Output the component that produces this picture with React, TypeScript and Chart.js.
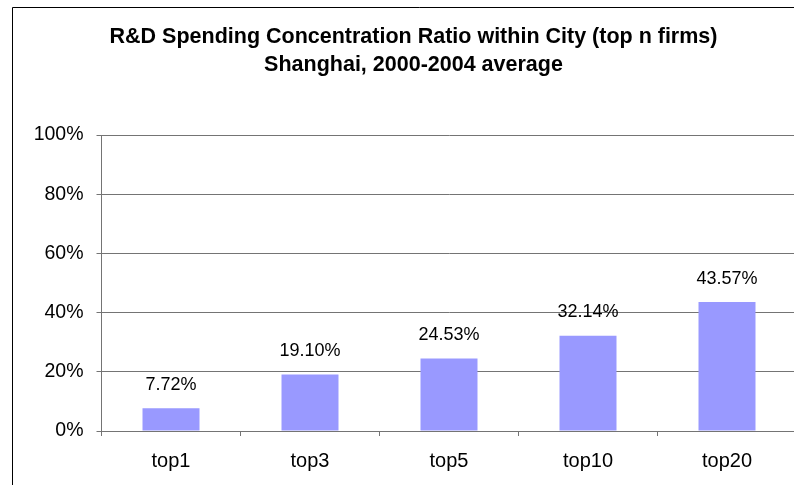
import React, { useEffect, useRef } from "react";
import { Chart, registerables } from "chart.js";

Chart.register(...registerables);

const categories = ["top1", "top3", "top5", "top10", "top20"];
const concentration = [7.72, 19.1, 24.53, 32.14, 43.57];
const yTicks = [0, 20, 40, 60, 80, 100];
const titleLines = [
  "R&D Spending Concentration Ratio within City (top n firms)",
  "Shanghai, 2000-2004 average",
];

const FONT = "'Liberation Sans', Arial, sans-serif";
const GRID = "#747474";

const frame = {
  id: "outerFrame",
  beforeDraw(chart: any) {
    const ctx = chart.ctx;
    ctx.save();
    ctx.fillStyle = "#ffffff";
    ctx.fillRect(0, 0, chart.width, chart.height);
    ctx.strokeStyle = "#000000";
    ctx.lineWidth = 1;
    ctx.beginPath();
    ctx.moveTo(12.5, chart.height);
    ctx.lineTo(12.5, 7.5);
    ctx.lineTo(chart.width, 7.5);
    ctx.stroke();
    ctx.restore();
  },
};

const valueLabels = {
  id: "valueLabels",
  afterDatasetsDraw(chart: any) {
    const ctx = chart.ctx;
    const meta = chart.getDatasetMeta(0);
    ctx.save();
    ctx.fillStyle = "#000000";
    ctx.font = `18px ${FONT}`;
    ctx.textAlign = "center";
    ctx.textBaseline = "middle";
    meta.data.forEach((bar: any, i: number) => {
      const v = chart.data.datasets[0].data[i] as number;
      ctx.fillText(v.toFixed(2) + "%", bar.x, bar.y - 23.5);
    });
    ctx.restore();
  },
};

export default function App() {
  const ref = useRef<HTMLCanvasElement>(null);

  useEffect(() => {
    document.body.style.margin = "0";
    document.body.style.overflow = "hidden";
    const canvas = ref.current!;
    const chart = new Chart(canvas, {
      type: "bar",
      data: {
        labels: categories,
        datasets: [
          {
            data: concentration,
            backgroundColor: "#9999FF",
            borderWidth: 0,
            categoryPercentage: 1,
            barPercentage: 0.41,
          },
        ],
      },
      options: {
        animation: false,
        responsive: false,
        devicePixelRatio: 1,
        layout: { padding: 0 },
        plugins: {
          legend: { display: false },
          tooltip: { enabled: false },
          title: {
            display: true,
            text: titleLines,
            color: "#000000",
            font: { family: FONT, size: 21.5, weight: "bold", lineHeight: 28 / 21.5 },
            padding: { top: 23, bottom: 56 },
          },
        },
        scales: {
          x: {
            type: "category",
            grid: {
              offset: true,
              drawOnChartArea: false,
              drawTicks: true,
              tickLength: 5,
              color: GRID,
            },
            border: { display: true, color: GRID },
            ticks: {
              color: "#000000",
              font: { family: FONT, size: 20 },
              padding: 13.5,
              maxRotation: 0,
              autoSkip: false,
            },
            afterFit(scale: any) {
              scale.height = 54;
            },
          },
          y: {
            type: "linear",
            position: "left",
            min: 0,
            max: 100,
            afterBuildTicks(scale: any) {
              scale.ticks = yTicks.map((v) => ({ value: v }));
            },
            grid: { color: GRID, tickLength: 5, drawTicks: true },
            border: { display: true, color: GRID },
            ticks: {
              color: "#000000",
              font: { family: FONT, size: 19.5 },
              padding: 13,
              callback: (v: any) => `${v}%`,
            },
            afterFit(scale: any) {
              scale.width = 101.5;
            },
          },
          yRight: {
            type: "linear",
            position: "right",
            display: true,
            grid: { display: false, drawTicks: false },
            border: { display: false },
            ticks: { display: false },
            afterFit(scale: any) {
              scale.width = 30.5;
            },
          },
        },
      },
      plugins: [frame, valueLabels],
    });
    return () => chart.destroy();
  }, []);

  return (
    <div style={{ width: 794, height: 485, overflow: "hidden", position: "relative", background: "#fff" }}>
      <canvas
        ref={ref}
        width={827}
        height={485}
        style={{ width: 827, height: 485, display: "block" }}
      />
    </div>
  );
}
